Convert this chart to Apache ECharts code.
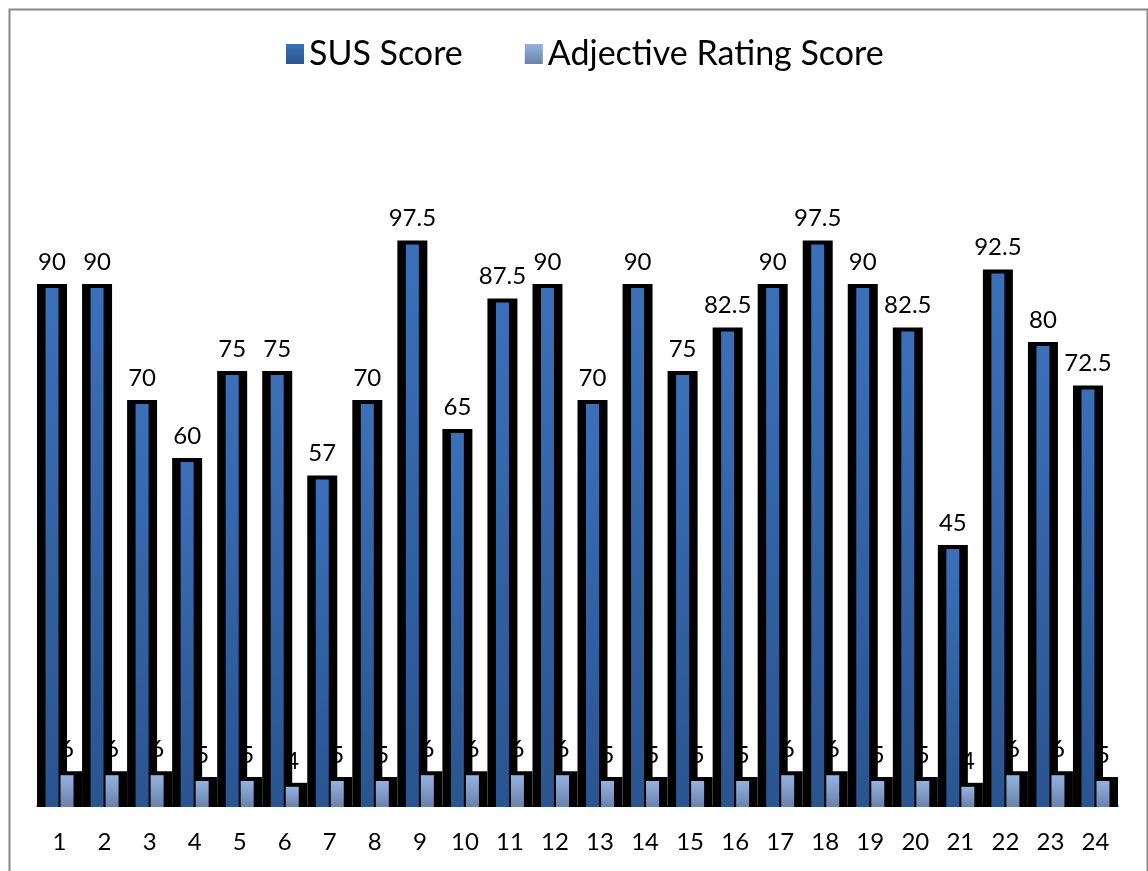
<!DOCTYPE html>
<html>
<head>
<meta charset="utf-8">
<script src="https://cdn.jsdelivr.net/npm/echarts@6/dist/echarts.min.js"></script>
<style>
  html, body { margin: 0; padding: 0; background: #fff; }
  #chart { width: 1148px; height: 871px; }
</style>
</head>
<body>
<div id="chart"></div>
<script>
// data
const categories = ['1','2','3','4','5','6','7','8','9','10','11','12','13','14','15','16','17','18','19','20','21','22','23','24'];
const susScore = [90, 90, 70, 60, 75, 75, 57, 70, 97.5, 65, 87.5, 90, 70, 90, 75, 82.5, 90, 97.5, 90, 82.5, 45, 92.5, 80, 72.5];
const adjectiveScore = [6, 6, 6, 5, 5, 4, 5, 5, 6, 6, 6, 6, 5, 5, 5, 5, 6, 6, 5, 5, 4, 6, 6, 5];

const FONT = 'Lato';
const BAR_W = 13;     // coloured face
const SHADOW_W = 30;  // black 3d block behind it
const LIP = 4;        // black shows above the face

const susColor = new echarts.graphic.LinearGradient(0, 0, 0, 1, [
  { offset: 0, color: '#3b70b9' }, { offset: 1, color: '#29548f' }
]);
const adjColor = new echarts.graphic.LinearGradient(0, 0, 0, 1, [
  { offset: 0, color: '#95b2e0' }, { offset: 1, color: '#6a82aa' }
]);

const rows = categories.map((c, i) => [i, susScore[i], adjectiveScore[i]]);

// x centre of one of the two bars in a category
function barX(api, i, k) {
  const band = api.size([1, 0])[0];
  const cx = api.coord([i, 0])[0];
  return cx + (k === 0 ? -band / 6 : band / 6);
}

function renderShadow(params, api) {
  const i = api.value(0);
  const baseY = api.coord([i, 0])[1];
  const kids = [];
  [api.value(1), api.value(2)].forEach((v, k) => {
    const top = api.coord([i, v])[1];
    const x = barX(api, i, k);
    kids.push({
      type: 'rect',
      shape: { x: x - SHADOW_W / 2, y: top, width: SHADOW_W, height: baseY - top + 1 },
      style: { fill: '#000' }
    });
  });
  return { type: 'group', children: kids };
}

function makeBar(k, color, withLabel) {
  return function (params, api) {
    const i = api.value(0);
    const v = api.value(k + 1);
    const baseY = api.coord([i, 0])[1];
    const top = api.coord([i, v])[1];
    const x = barX(api, i, k);
    const kids = [{
      type: 'rect',
      shape: { x: x - BAR_W / 2, y: top + LIP, width: BAR_W, height: baseY - top - LIP + 1 },
      style: { fill: color }
    }];
    if (withLabel) {
      kids.push({
        type: 'text',
        x: x, y: top - 10,
        style: { text: String(v), fill: '#000', font: '24px ' + FONT, align: 'center', verticalAlign: 'bottom' }
      });
    }
    return { type: 'group', children: kids };
  };
}

function renderAdjLabel(params, api) {
  const i = api.value(0);
  const v = api.value(2);
  const top = api.coord([i, v])[1];
  return {
    type: 'text',
    x: barX(api, i, 1), y: top - 10,
    style: { text: String(v), fill: '#000', font: '24px ' + FONT, align: 'center', verticalAlign: 'bottom' }
  };
}

let myChart = echarts.init(document.getElementById('chart'));
myChart.setOption({
  animation: false,
  graphic: [{
    type: 'rect', left: 7, top: 7, silent: true,
    shape: { width: 1138, height: 900 },
    style: { fill: 'none', stroke: '#888', lineWidth: 2 }
  }],
  legend: {
    top: 32, left: 281,
    itemWidth: 18, itemHeight: 20, itemGap: 62,
    icon: 'rect',
    data: ['SUS Score', 'Adjective Rating Score'],
    textStyle: { fontFamily: FONT, fontSize: 34, color: '#000' }
  },
  grid: { left: 37, right: 30, top: 226, bottom: 65 },
  xAxis: {
    type: 'category',
    data: categories,
    axisLine: { show: true, lineStyle: { color: '#888', width: 2 } },
    axisTick: { show: false },
    axisLabel: { margin: 24, interval: 0, fontFamily: FONT, fontSize: 24, color: '#000' },
    splitLine: { show: false }
  },
  yAxis: {
    type: 'value', min: 0, max: 100, show: false,
    splitLine: { show: false }
  },
  series: [
    { name: 'adjLabels', type: 'custom', z: 1, data: rows, encode: { x: 0, y: [1, 2] }, renderItem: renderAdjLabel },
    { name: 'shadow', type: 'custom', z: 2, data: rows, encode: { x: 0, y: [1, 2] }, renderItem: renderShadow },
    { name: 'SUS Score', type: 'custom', z: 3, data: rows, itemStyle: { color: susColor },
      encode: { x: 0, y: 1 }, renderItem: makeBar(0, susColor, true) },
    { name: 'Adjective Rating Score', type: 'custom', z: 3, data: rows, itemStyle: { color: adjColor },
      encode: { x: 0, y: 2 }, renderItem: makeBar(1, adjColor, false) }
  ]
});
</script>
</body>
</html>
